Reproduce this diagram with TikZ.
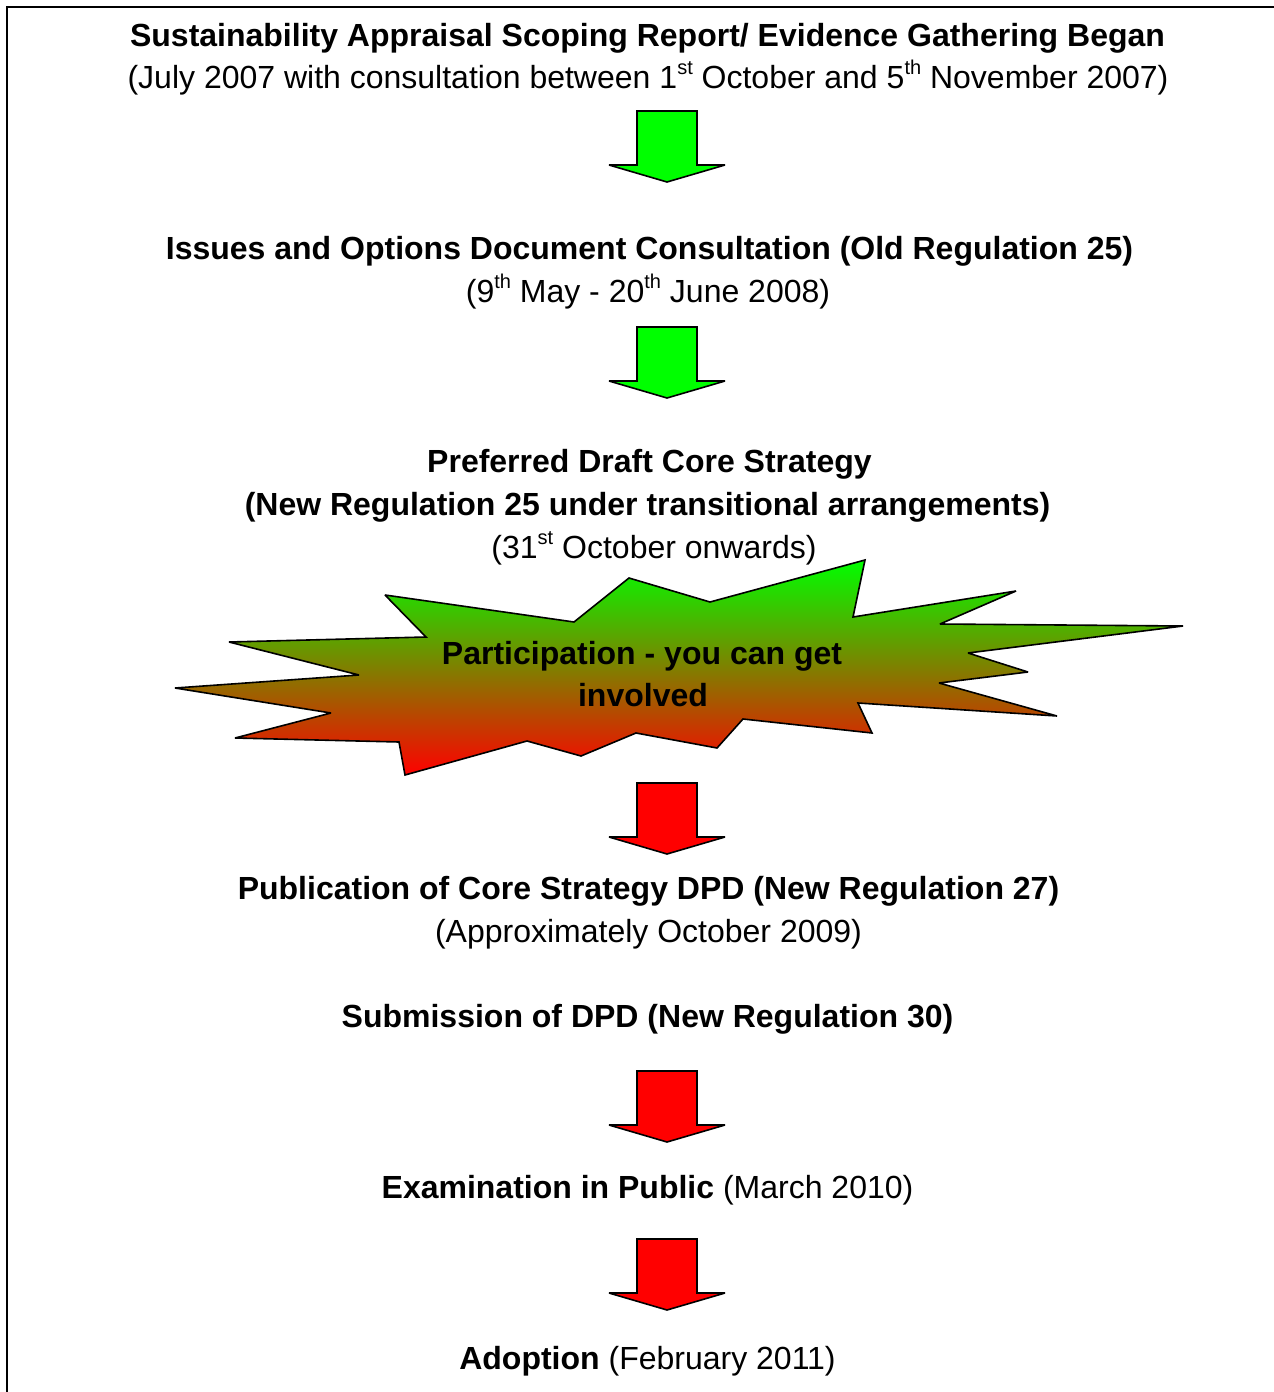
\documentclass[tikz,border=0pt]{standalone}
\usepackage{fontspec}
\setmainfont{Liberation Sans}
\definecolor{arrgreen}{RGB}{0,255,0}
\definecolor{arrred}{RGB}{255,0,0}
\newcommand\supr[1]{\raisebox{0.42em}{\fontsize{20}{20}\selectfont #1}}
\begin{document}
\begin{tikzpicture}[x=1pt,y=-1pt,
  txt/.style={anchor=base, inner sep=0pt, font=\fontsize{32}{42.5}\selectfont},
  bld/.style={anchor=base, inner sep=0pt, font=\fontsize{32}{42.5}\selectfont\bfseries},
  blockarr/.pic={\path[pic actions] (-30,0) -- (30,0) -- (30,54) -- (58,54) -- (0,71) -- (-58,54) -- (-30,54) -- cycle;},
  arrline/.style={draw=black, line width=1.6pt, line join=miter, miter limit=3},
  greenarr/.style={arrline, fill=arrgreen},
  redarr/.style={arrline, fill=arrred}
]
\useasboundingbox (0,0) rectangle (1274,1392);
\clip (0,0) rectangle (1274,1392);
\fill[white] (0,0) rectangle (1274,1392);
\draw[line width=2.6pt] (7,7) rectangle (1320,1440);

% block 1
\node[bld] (t1a) at (647.5,46) {Sustainability Appraisal Scoping Report/ Evidence Gathering Began};
\node[txt] (t1b) at (648,88) {(July 2007 with consultation between 1\supr{st} October and 5\supr{th} November 2007)};
\pic[greenarr] (a1) at (667,111) {blockarr};

% block 2
\node[bld] (t2a) at (649.5,259) {Issues and Options Document Consultation (Old Regulation 25)};
\node[txt] (t2b) at (648,302) {(9\supr{th} May - 20\supr{th} June 2008)};
\pic[greenarr] (a2) at (667,327) {blockarr};

% block 3
\node[bld] (t3a) at (649.5,472) {Preferred Draft Core Strategy};
\node[bld] (t3b) at (647.5,515) {(New Regulation 25 under transitional arrangements)};
\node[txt] (t3c) at (654,558) {(31\supr{st} October onwards)};

% starburst
\shadedraw[top color=arrgreen, bottom color=arrred, line width=1.6pt, line join=miter, miter limit=3]
  (385,595) -- (574,622) -- (629,578) -- (710,602) -- (865,560) -- (853,617)
  -- (1016,591) -- (940,624) -- (1183,626) -- (968,653) -- (1028,672)
  -- (939,683) -- (1057,716) -- (858,703) -- (872,733) -- (743,719)
  -- (717,748) -- (636,733) -- (581,756) -- (527,741) -- (405,775)
  -- (399,742) -- (235,738) -- (331,713) -- (175,688) -- (359,675)
  -- (229,642) -- (426,637) -- cycle;
\node[bld] (p1) at (642,664) {Participation - you can get};
\node[bld] (p2) at (643,706) {involved};

\pic[redarr] (a3) at (667,783) {blockarr};

% block 4
\node[bld] (t4a) at (648.5,899) {Publication of Core Strategy DPD (New Regulation 27)};
\node[txt] (t4b) at (648.5,942) {(Approximately October 2009)};

% block 5
\node[bld] (t5) at (647.5,1027) {Submission of DPD (New Regulation 30)};
\pic[redarr] (a4) at (667,1071) {blockarr};

% block 6
\node[txt] (t6) at (647.5,1198) {\textbf{Examination in Public} (March 2010)};
\pic[redarr] (a5) at (667,1239) {blockarr};

% block 7
\node[txt] (t7) at (647.5,1369) {\textbf{Adoption} (February 2011)};
\end{tikzpicture}
\end{document}
